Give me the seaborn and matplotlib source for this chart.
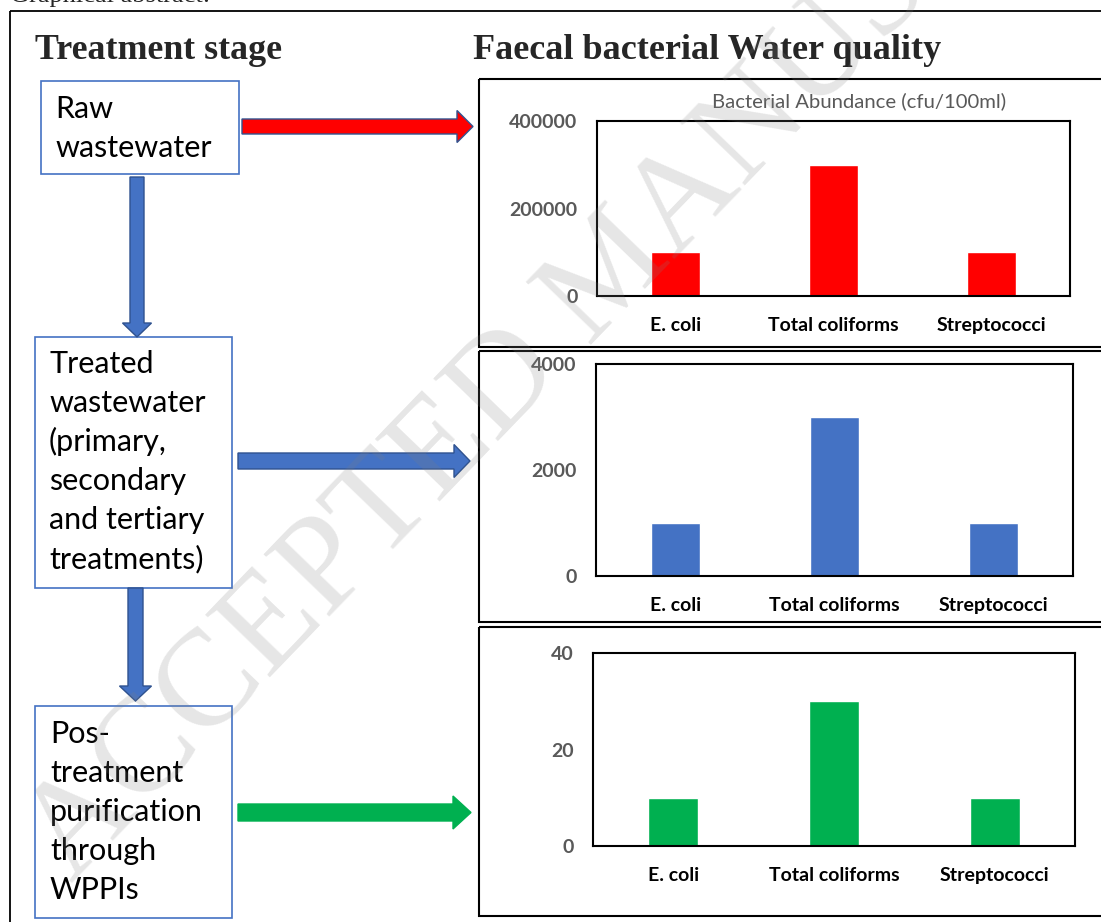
import matplotlib
matplotlib.use("Agg")
import matplotlib.pyplot as plt
import matplotlib.patches as mpatches
import pandas as pd
import seaborn as sns

categories = ["E. coli", "Total coliforms", "Streptococci"]
raw_counts = [100000, 300000, 100000]
treated_counts = [1000, 3000, 1000]
purified_counts = [10, 30, 10]
raw_ticks = [0, 200000, 400000]
treated_ticks = [0, 2000, 4000]
purified_ticks = [0, 20, 40]
stage_lines = [
    ["Raw", "wastewater"],
    ["Treated", "wastewater", "(primary,", "secondary", "and tertiary", "treatments)"],
    ["Pos-", "treatment", "purification", "through", "WPPIs"],
]
chart_title = "Bacterial Abundance (cfu/100ml)"

RED = "#FF0000"
BLUE = "#4472C4"
GREEN = "#00B050"
GREY = "#595959"

W, H = 1101, 922

sns.set_theme(style="white")
plt.rcParams["font.family"] = ["Lato", "DejaVu Sans"]


def fig_rect(x0, y0, x1, y1):
    return [x0 / W, 1 - y1 / H, (x1 - x0) / W, (y1 - y0) / H]


fig = plt.figure(figsize=(W / 100, H / 100), dpi=100)
fig.patch.set_facecolor("white")

# background layer in pixel coordinates for the flow chart and frames
bg = fig.add_axes([0, 0, 1, 1], zorder=0)
bg.set_xlim(0, W)
bg.set_ylim(H, 0)
bg.axis("off")

bg.add_patch(mpatches.Rectangle((10, 11), 1200, 1000, fill=False, ec="black", lw=1.3))
for top, bottom in [(79, 347), (351, 622), (627, 916)]:
    bg.add_patch(mpatches.Rectangle((479, top), 700, bottom - top, fill=False, ec="black", lw=1.5))

bg.text(10, 2, "Graphical abstract:", family="Liberation Serif", fontsize=19, va="baseline")
bg.text(35, 59, "Treatment stage", family="Liberation Serif", weight="bold", fontsize=25.8, va="baseline")
bg.text(473, 59, "Faecal bacterial Water quality", family="Liberation Serif", weight="bold",
        fontsize=26, va="baseline")

# stage boxes
boxes = [(41, 81, 239, 174, 55, 118), (35, 337, 232, 588, 49, 373), (35, 706, 232, 918, 50, 743)]
for (x0, y0, x1, y1, tx, ty), lines in zip(boxes, stage_lines):
    bg.add_patch(mpatches.Rectangle((x0, y0), x1 - x0, y1 - y0, fill=False, ec=BLUE, lw=1.2))
    for i, line in enumerate(lines):
        bg.text(tx, ty + 39 * i, line, fontsize=22, va="baseline", color="black")


def arrow(x, y, dx, dy, width, head_width, head_length, color, edge=None):
    bg.add_patch(mpatches.FancyArrow(x, y, dx, dy, width=width, head_width=head_width,
                                     head_length=head_length, length_includes_head=True,
                                     fc=color, ec=edge or color, lw=1))


arrow(137, 177, 0, 160, 14, 29, 14, BLUE, "#2F528F")
arrow(135.5, 588, 0, 113, 15, 32, 15, BLUE, "#2F528F")
arrow(242, 126.5, 231, 0, 15, 32, 16, RED, "#2F528F")
arrow(238, 461, 232, 0, 16, 33, 16, BLUE, "#2F528F")
arrow(238, 812.5, 233, 0, 17, 33, 18, GREEN)

# bar charts
panels = [
    ((597, 121, 1070, 296), raw_counts, raw_ticks, RED, True),
    ((596, 364, 1073, 576), treated_counts, treated_ticks, BLUE, False),
    ((593, 653, 1075, 846), purified_counts, purified_ticks, GREEN, False),
]
for box, values, ticks, color, with_title in panels:
    ax = fig.add_axes(fig_rect(*box), zorder=2)
    df = pd.DataFrame({"category": categories, "count": values})
    sns.barplot(data=df, x="category", y="count", color=color, width=0.31,
                saturation=1, errorbar=None, ax=ax)
    ax.set_xlim(-0.5, 2.5)
    ax.set_ylim(0, ticks[-1])
    ax.set_yticks(ticks)
    ax.set_yticklabels([str(t) for t in ticks])
    ax.set_xlabel("")
    ax.set_ylabel("")
    ax.grid(False)
    for s in ax.spines.values():
        s.set_visible(True)
        s.set_color("black")
        s.set_linewidth(1.5)
    ax.tick_params(axis="y", length=0, pad=14, labelsize=14, labelcolor=GREY)
    ax.tick_params(axis="x", length=0, pad=15, labelsize=14, labelcolor="black")
    for lab in ax.get_xticklabels() + ax.get_yticklabels():
        lab.set_fontweight("bold")
    if with_title:
        ax.set_title(chart_title, x=0.554, pad=10, fontsize=14.6, color=GREY)

# watermark
fig.text(614 / W, 1 - 273 / H, "ACCEPTED MANUSCRIPT", family="Liberation Serif", fontsize=99,
         rotation=46, color="#808080", alpha=0.2, ha="center", va="center",
         rotation_mode="anchor", zorder=10)

fig.savefig("out.png", dpi=100)
